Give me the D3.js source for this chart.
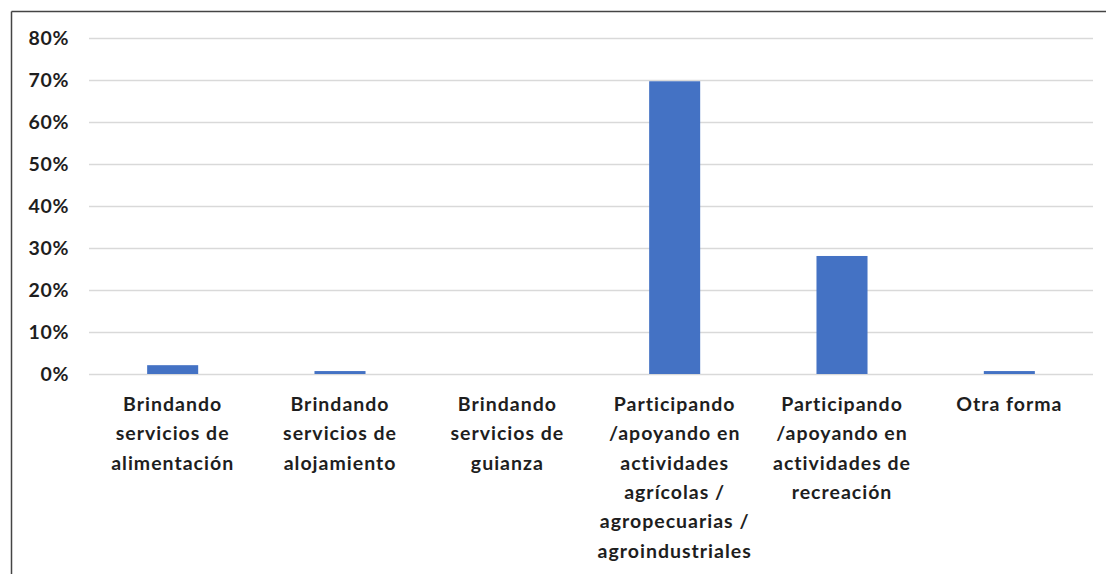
<!DOCTYPE html>
<html>
<head>
<meta charset="utf-8">
<script src="https://cdn.jsdelivr.net/npm/d3@7"></script>
<style>
  body { margin: 0; background: #fff; }
  svg text { font-family: Lato, "Open Sans", sans-serif; font-weight: bold; fill: #1e1e1e; }
</style>
</head>
<body>
<svg id="chart" width="1106" height="574"></svg>
<script>
  // categories, each split into the lines shown under the axis
  var categories = [
    'Brindando servicios de alimentación',
    'Brindando servicios de alojamiento',
    'Brindando servicios de guianza',
    'Participando /apoyando en actividades agrícolas / agropecuarias / agroindustriales',
    'Participando /apoyando en actividades de recreación',
    'Otra forma'
  ];
  var categoryLines = [
    ['Brindando', 'servicios de', 'alimentación'],
    ['Brindando', 'servicios de', 'alojamiento'],
    ['Brindando', 'servicios de', 'guianza'],
    ['Participando', '/apoyando en', 'actividades', 'agrícolas /', 'agropecuarias /', 'agroindustriales'],
    ['Participando', '/apoyando en', 'actividades de', 'recreación'],
    ['Otra forma']
  ];
  var values = [0.021, 0.007, 0, 0.697, 0.281, 0.007];
  var yTicks = [0, 0.1, 0.2, 0.3, 0.4, 0.5, 0.6, 0.7, 0.8];

  var svg = d3.select('#chart');
  var margin = { left: 89, right: 13, top: 38, bottom: 200 };
  var width = 1106, height = 574;
  var plotBottom = 374;

  // frame lines (top and left edge of the chart box)
  svg.append('line')
    .attr('x1', 11.5).attr('y1', 11.5).attr('x2', width).attr('y2', 11.5)
    .attr('stroke', '#444').attr('stroke-width', 1.5);
  svg.append('line')
    .attr('x1', 11.5).attr('y1', 11.5).attr('x2', 11.5).attr('y2', height)
    .attr('stroke', '#444').attr('stroke-width', 1.5);

  var x = d3.scaleBand()
    .domain(categories)
    .range([margin.left, width - margin.right])
    .paddingInner(0.695)
    .paddingOuter(0.3475);

  var y = d3.scaleLinear()
    .domain([0, 0.8])
    .range([plotBottom, margin.top]);

  var yAxis = d3.axisLeft(y)
    .tickValues(yTicks)
    .tickFormat(d3.format('.0%'))
    .tickSize(-(width - margin.right - margin.left))
    .tickPadding(20);

  var gy = svg.append('g')
    .attr('transform', 'translate(' + margin.left + ',0)')
    .call(yAxis);
  gy.select('.domain').remove();
  gy.selectAll('.tick line')
    .attr('stroke', '#d9d9d9')
    .attr('stroke-width', 1.5);
  gy.selectAll('.tick text')
    .style('font-size', '19.5px')
    .style('letter-spacing', '0.6px')
    .attr('dy', '0.35em');

  svg.append('g')
    .selectAll('rect')
    .data(values)
    .enter().append('rect')
    .attr('x', function(d, i) { return x(categories[i]); })
    .attr('width', x.bandwidth())
    .attr('y', function(d) { return y(d); })
    .attr('height', function(d) { return plotBottom - y(d); })
    .attr('fill', '#4472c4');

  var labels = svg.append('g')
    .selectAll('text')
    .data(categoryLines)
    .enter().append('text')
    .attr('text-anchor', 'middle')
    .attr('transform', function(d, i) {
      return 'translate(' + (x(categories[i]) + x.bandwidth() / 2) + ',411)';
    })
    .style('font-size', '19.5px')
    .style('letter-spacing', '1px');

  labels.selectAll('tspan')
    .data(function(d) { return d; })
    .enter().append('tspan')
    .attr('x', 0)
    .attr('y', function(d, j) { return j * 29.3; })
    .text(function(d) { return d; });
</script>
</body>
</html>
